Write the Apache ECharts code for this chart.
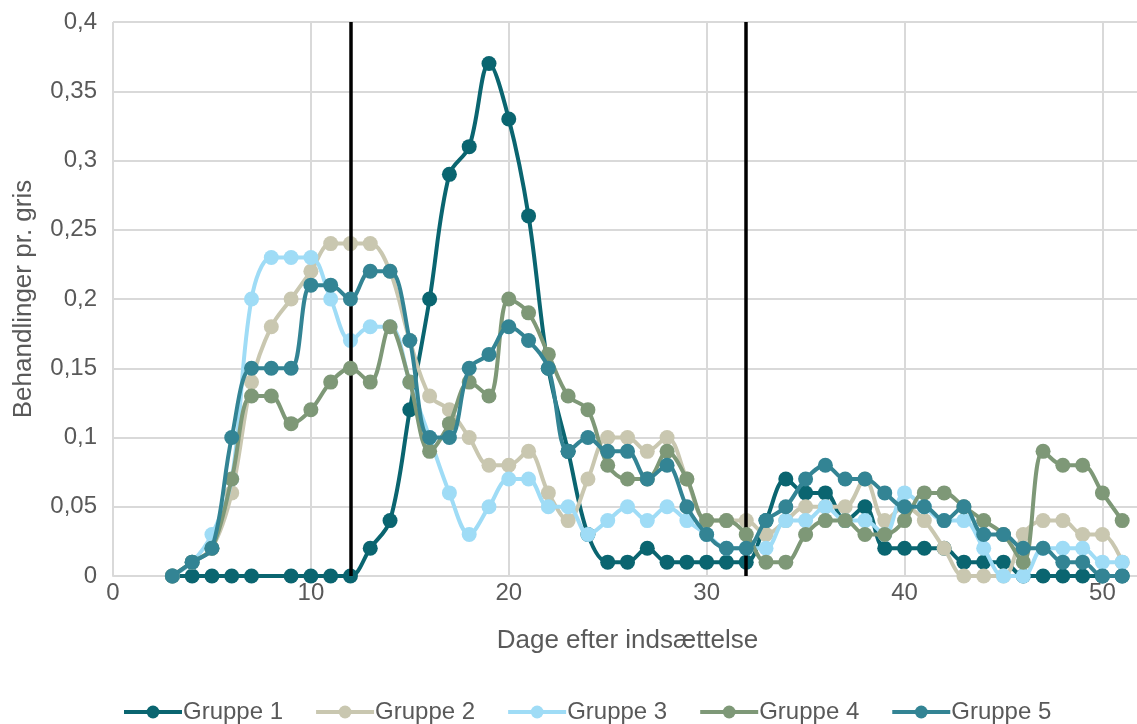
<!DOCTYPE html>
<html>
<head>
<meta charset="utf-8">
<script src="https://cdn.jsdelivr.net/npm/echarts@6/dist/echarts.min.js"></script>
<style>html,body{margin:0;padding:0;background:#fff;}#c{width:1137px;height:724px;}</style>
</head>
<body>
<div id="c"></div>
<script>
const days = [3,4,5,6,7,8,9,10,11,12,13,14,15,16,17,18,19,20,21,22,23,24,25,26,27,28,29,30,31,32,33,34,35,36,37,38,39,40,41,42,43,44,45,46,47,48,49,50,51];
const gruppe1 = [0,0,0,0,0,null,0,0,0,0,0.02,0.04,0.12,0.2,0.29,0.31,0.37,0.33,0.26,0.15,0.09,0.03,0.01,0.01,0.02,0.01,0.01,0.01,0.01,0.01,0.04,0.07,0.06,0.06,0.04,0.05,0.02,0.02,0.02,0.02,0.01,0.01,0.01,0,0,0,0,0,0];
const gruppe2 = [0,0.01,0.02,0.06,0.14,0.18,0.2,0.22,0.24,0.24,0.24,0.22,0.17,0.13,0.12,0.1,0.08,0.08,0.09,0.06,0.04,0.07,0.1,0.1,0.09,0.1,0.07,0.04,0.04,0.04,0.03,0.04,0.05,0.05,0.05,0.07,0.04,0.05,0.04,0.02,0,0,0,0.03,0.04,0.04,0.03,0.03,0.01];
const gruppe3 = [0,0.01,0.03,0.07,0.2,0.23,0.23,0.23,0.2,0.17,0.18,0.18,0.14,0.1,0.06,0.03,0.05,0.07,0.07,0.05,0.05,0.03,0.04,0.05,0.04,0.05,0.04,0.03,0.02,0.02,0.02,0.04,0.04,0.05,0.04,0.04,0.03,0.06,0.05,0.04,0.04,0.02,0,0,0.02,0.02,0.02,0.01,0.01];
const gruppe4 = [0,0.01,0.02,0.07,0.13,0.13,0.11,0.12,0.14,0.15,0.14,0.18,0.14,0.09,0.11,0.14,0.13,0.2,0.19,0.16,0.13,0.12,0.08,0.07,0.07,0.09,0.07,0.04,0.04,0.03,0.01,0.01,0.03,0.04,0.04,0.03,0.03,0.04,0.06,0.06,0.05,0.04,0.03,0.01,0.09,0.08,0.08,0.06,0.04];
const gruppe5 = [0,0.01,0.02,0.1,0.15,0.15,0.15,0.21,0.21,0.2,0.22,0.22,0.17,0.1,0.1,0.15,0.16,0.18,0.17,0.15,0.09,0.1,0.09,0.09,0.07,0.08,0.05,0.03,0.02,0.02,0.04,0.05,0.07,0.08,0.07,0.07,0.06,0.05,0.05,0.04,0.05,0.03,0.03,0.02,0.02,0.01,0.01,0,0];
const seriesNames = ['Gruppe 1','Gruppe 2','Gruppe 3','Gruppe 4','Gruppe 5'];
const seriesValues = [gruppe1,gruppe2,gruppe3,gruppe4,gruppe5];
const dividers = [12, 32];
const xTicks = [0,10,20,30,40,50];
const xTitle = 'Dage efter indsættelse';
const yTitle = 'Behandlinger pr. gris';

const colors = ['#0a6570','#c9c7b0','#9fdcf6','#7e9877','#338494'];
const FONT = "'Liberation Sans', Arial, sans-serif";
const TXT = '#595959';

const chart = echarts.init(document.getElementById('c'), null, {renderer:'canvas'});
const series = seriesNames.map((n,i)=>({
  name:n, type:'line', smooth:0.35, connectNulls:true,
  symbol:'circle', symbolSize:15,
  lineStyle:{width:4,color:colors[i]},
  itemStyle:{color:colors[i]},
  z:2+i,
  data: days.map((d,k)=>[d, seriesValues[i][k]])
}));
series.push({
  name:'divider', type:'line', data:[], z:20,
  markLine:{silent:true, symbol:'none', animation:false,
    lineStyle:{color:'#000',width:3.5,type:'solid'},
    label:{show:false},
    data: dividers.map(d=>({xAxis:d}))}
});
chart.setOption({
  animation:false,
  color:colors,
  textStyle:{fontFamily:FONT},
  grid:{left:113, top:22, right:-5, bottom:148, containLabel:false, outerBoundsMode:'none'},
  xAxis:{type:'value', min:0, max:52, interval:10,
    name:xTitle, nameLocation:'middle', nameGap:52,
    nameTextStyle:{color:TXT,fontSize:26,fontFamily:FONT},
    axisLine:{show:true,lineStyle:{color:'#d9d9d9',width:2}},
    axisTick:{show:false},
    axisLabel:{color:TXT,fontSize:24,fontFamily:FONT,margin:5,showMaxLabel:false,
      formatter:v=> xTicks.indexOf(v)>=0 ? String(v) : ''},
    splitLine:{show:true,lineStyle:{color:'#d9d9d9',width:2}}
  },
  yAxis:{type:'value', min:0, max:0.4, interval:0.05,
    name:yTitle, nameLocation:'middle', nameGap:76, nameRotate:90,
    nameTextStyle:{color:TXT,fontSize:26,fontFamily:FONT},
    axisLine:{show:false}, axisTick:{show:false},
    axisLabel:{color:TXT,fontSize:24,fontFamily:FONT,margin:16,
      formatter:v=> String(Math.round(v*100)/100).replace('.',',')},
    splitLine:{show:true,lineStyle:{color:'#d9d9d9',width:2}}
  },
  legend:{data:seriesNames, top:695, left:117, itemWidth:58, itemHeight:16, itemGap:31,
    lineStyle:{width:4},
    textStyle:{color:TXT,fontSize:24,fontFamily:FONT, padding:[0,0,0,-4]}},
  series:series
});
</script>
</body>
</html>
